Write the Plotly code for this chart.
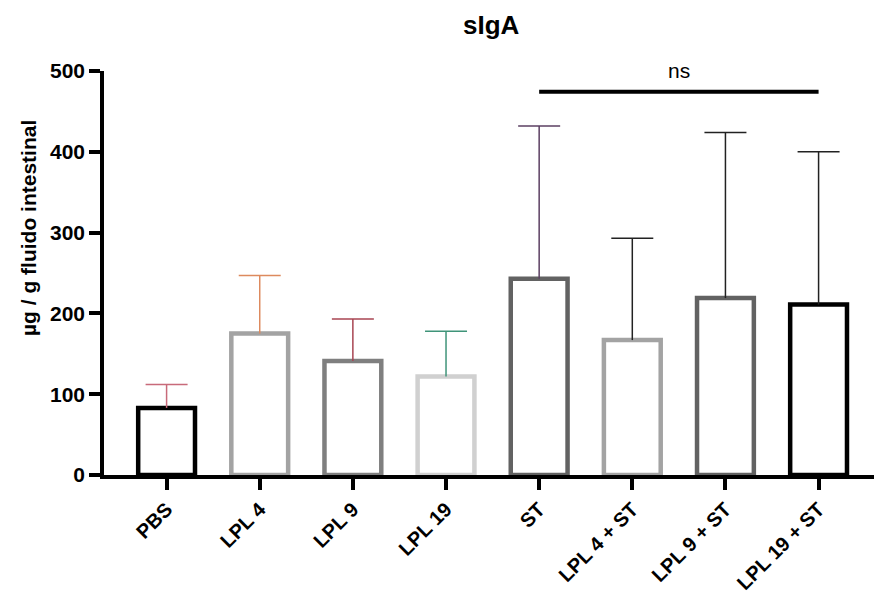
import plotly.graph_objects as go

categories = ["PBS", "LPL 4", "LPL 9", "LPL 19", "ST", "LPL 4 + ST", "LPL 9 + ST", "LPL 19 + ST"]
means = [83, 175, 141, 122, 243, 167, 219, 211]
upper = [112, 247, 193, 178, 432, 293, 424, 400]
bar_colors = ["#000000", "#a3a3a3", "#7f7f7f", "#d0d0d0", "#626262", "#a3a3a3", "#626262", "#000000"]
err_colors = ["#c86a7a", "#dd8a5e", "#a84552", "#3f9479", "#5b3f62", "#222222", "#222222", "#222222"]
sig_pair = (4, 7)
sig_y = 474.4
sig_text = "ns"

FONT = "Liberation Sans, Arial, sans-serif"
W, H = 874, 596
L, R, T, B = 104, 0, 71, 121
PW, PH = W - L - R, H - T - B

fig = go.Figure()
for i, c in enumerate(categories):
    fig.add_trace(go.Bar(
        x=[i], y=[means[i]],
        width=0.61,
        marker=dict(color="white", line=dict(color=bar_colors[i], width=4.5)),
        error_y=dict(type="data", symmetric=False, array=[upper[i] - means[i]], arrayminus=[0],
                     color=err_colors[i], thickness=1.5, width=0),
        showlegend=False, hoverinfo="skip",
    ))
# error bar caps
for i, c in enumerate(categories):
    fig.add_trace(go.Scatter(
        x=[i], y=[upper[i]], mode="markers",
        marker=dict(symbol="line-ew", size=30, line=dict(color=err_colors[i], width=1.5)),
        showlegend=False, hoverinfo="skip", cliponaxis=False,
    ))

fig.add_shape(type="line", x0=sig_pair[0], x1=sig_pair[1], y0=sig_y, y1=sig_y, xref="x", yref="y",
              line=dict(color="black", width=4))
fig.add_annotation(x=(sig_pair[0] + sig_pair[1]) / 2, xref="x", y=(T + PH - 70) / PH, yref="paper",
                   text=sig_text, showarrow=False, yanchor="middle",
                   font=dict(family=FONT, size=21, color="black"))
fig.add_annotation(x=(492 - L) / PW, xref="paper", y=(T + PH - 25) / PH, yref="paper",
                   text="sIgA", showarrow=False, yanchor="middle",
                   font=dict(family=FONT, size=26, color="black", weight="bold"))
fig.add_annotation(x=(28 - L) / PW, xref="paper", y=(T + PH - 228) / PH, yref="paper",
                   text="µg / g fluido intestinal", showarrow=False, textangle=-90,
                   xanchor="center", yanchor="middle",
                   font=dict(family=FONT, size=21, color="black", weight="bold"))

fig.update_layout(
    width=W, height=H,
    margin=dict(l=L, r=R, t=T, b=B, autoexpand=False),
    paper_bgcolor="white", plot_bgcolor="white",
    barmode="overlay",
    font=dict(family=FONT, color="black"),
)

fig.update_xaxes(
    range=[-0.672, 7.595], tickvals=list(range(len(categories))), ticktext=categories,
    tickangle=-45, showline=True, linecolor="black", linewidth=3.5,
    ticks="outside", ticklen=11, tickwidth=3.5, tickcolor="black",
    tickfont=dict(family=FONT, size=20, color="black", weight="bold"),
    showgrid=False, zeroline=False, automargin=False,
)
fig.update_yaxes(
    range=[0, 500], tickvals=[0, 100, 200, 300, 400, 500],
    showline=True, linecolor="black", linewidth=3.5,
    ticks="outside", ticklen=11, tickwidth=3.5, tickcolor="black",
    tickfont=dict(family=FONT, size=21, color="black", weight="bold"),
    showgrid=False, zeroline=False, automargin=False,
)

fig.write_html("out.html")
